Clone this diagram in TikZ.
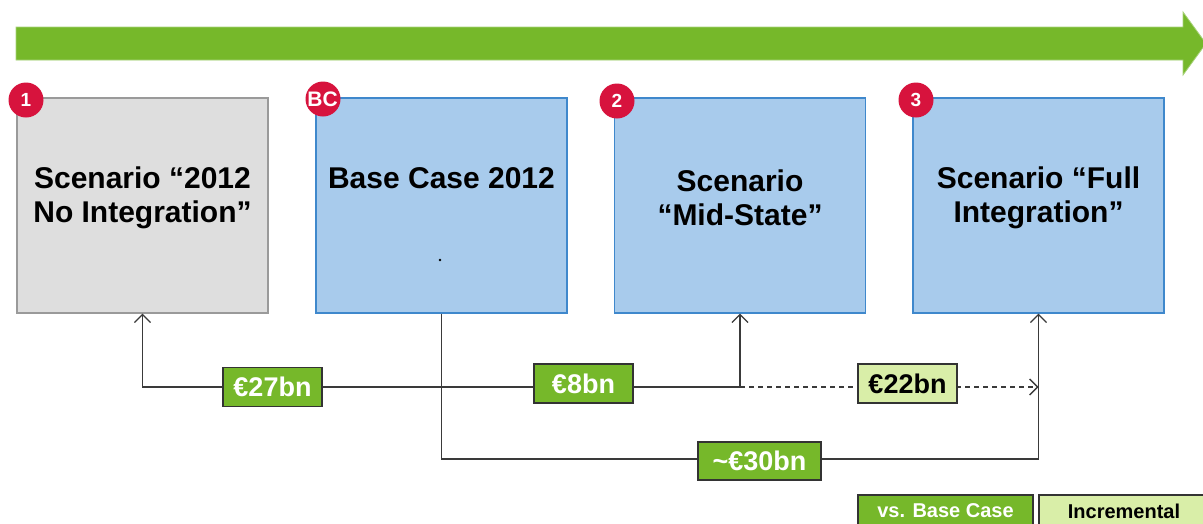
\documentclass[tikz,border=0pt]{standalone}
\usepackage{fontspec}
\setmainfont{Liberation Sans}
\usetikzlibrary{arrows.meta}
\definecolor{barGreen}{HTML}{76B82A}
\definecolor{barEdge}{HTML}{A8D27A}
\definecolor{paleGreen}{HTML}{D9EEA8}
\definecolor{boxBlue}{HTML}{A8CBEC}
\definecolor{blueEdge}{HTML}{3F88CC}
\definecolor{boxGray}{HTML}{DEDEDE}
\definecolor{grayEdge}{HTML}{9A9A9A}
\definecolor{badgeRed}{HTML}{D7133D}
\definecolor{lineGray}{HTML}{3A3A3A}
\tikzset{
  scenbox/.style={draw=blueEdge, fill=boxBlue, line width=1.2pt,
    minimum width=251pt, minimum height=215pt, inner sep=0pt},
  greybox/.style={scenbox, draw=grayEdge, fill=boxGray},
  boxtext/.style={align=center, font=\fontsize{30}{34}\selectfont\bfseries,
    text=black, inner sep=0pt},
  badge/.style={circle, fill=badgeRed, minimum size=35pt, inner sep=0pt,
    text=white, font=\fontsize{19}{19}\selectfont\bfseries},
  conn/.style={draw=lineGray, line width=1.2pt},
  tip/.style={-{Straight Barb[length=8pt,width=16pt,line width=1.3pt]}},
  valbox/.style={draw=black!80, line width=1.2pt, fill=barGreen, text=white,
    minimum width=99pt, minimum height=39pt, inner sep=0pt,
    font=\fontsize{27}{27}\selectfont\bfseries},
  incbox/.style={valbox, fill=paleGreen, text=black},
  legbox/.style={draw=black!80, line width=1.2pt, minimum height=32pt,
    inner sep=0pt, font=\fontsize{20}{20}\selectfont\bfseries},
}
\begin{document}
\begin{tikzpicture}[x=1pt, y=-1pt]
\clip (0,0) rectangle (1203,523);
\fill[white] (0,0) rectangle (1203,523);

% timeline arrow
\fill[barGreen, draw=barEdge, line width=0.8pt]
  (16,27) -- (1183,27) -- (1183,12) -- (1206,43.5) -- (1183,75) -- (1183,60) -- (16,60) -- cycle;

% scenario boxes
\node[greybox] (s1) at (142.5,205.5) {};
\node[scenbox] (bc) at (441.5,205.5) {};
\node[scenbox] (s2) at (740,205.5) {};
\node[scenbox] (s3) at (1038.5,205.5) {};

\node[boxtext] (t1) at ([yshift=8pt]s1.center) {Scenario “2012\\No Integration”};
\node[boxtext] (tbc) at ([yshift=27.5pt]bc.center) {Base Case 2012};
\node[boxtext] (t2) at ([yshift=8pt]s2.center) {Scenario\\“Mid-State”};
\node[boxtext] (t3) at ([yshift=8pt]s3.center) {Scenario “Full\\Integration”};
\fill[black] (440,260) circle (1.4pt);

% badges
\node[badge] (b1) at (26,100) {1};
\node[badge, font=\fontsize{21}{21}\selectfont\bfseries] (bbc) at (323,99) {\hspace*{-1pt}BC};
\node[badge] (b2) at (617,101) {2};
\node[badge] (b3) at (916,100) {3};

% connectors
\coordinate (j) at (441.5,387);
\coordinate (k2) at (740,387);
\coordinate (k3) at (1038.5,387);
\coordinate (low) at (1038.5,459);
\draw[conn, tip] (j) -| (s1.south);
\draw[conn, tip] (j) -- (k2) -- (s2.south);
\draw[conn, dashed, dash pattern=on 5pt off 4pt, tip] (k2) -- (k3);
\draw[conn, tip] (bc.south) |- (low) -- (s3.south);

% values
\node[valbox] (v27) at (272.5,387) {€27bn};
\node[valbox] (v8) at (583.5,383.5) {€8bn};
\node[incbox] (v22) at (907.5,383.5) {€22bn};
\node[valbox, minimum width=123pt, minimum height=38pt] (v30) at (759.5,461) {\textasciitilde€30bn};

% legend
\node[legbox, fill=barGreen, text=white, minimum width=175pt] (lg1) at (945.5,511) {vs. Base Case};
\node[legbox, fill=paleGreen, text=black, minimum width=172pt] (lg2) at (1125,511) {\hspace*{-2pt}Incremental\hspace*{0pt}};
\end{tikzpicture}
\end{document}
